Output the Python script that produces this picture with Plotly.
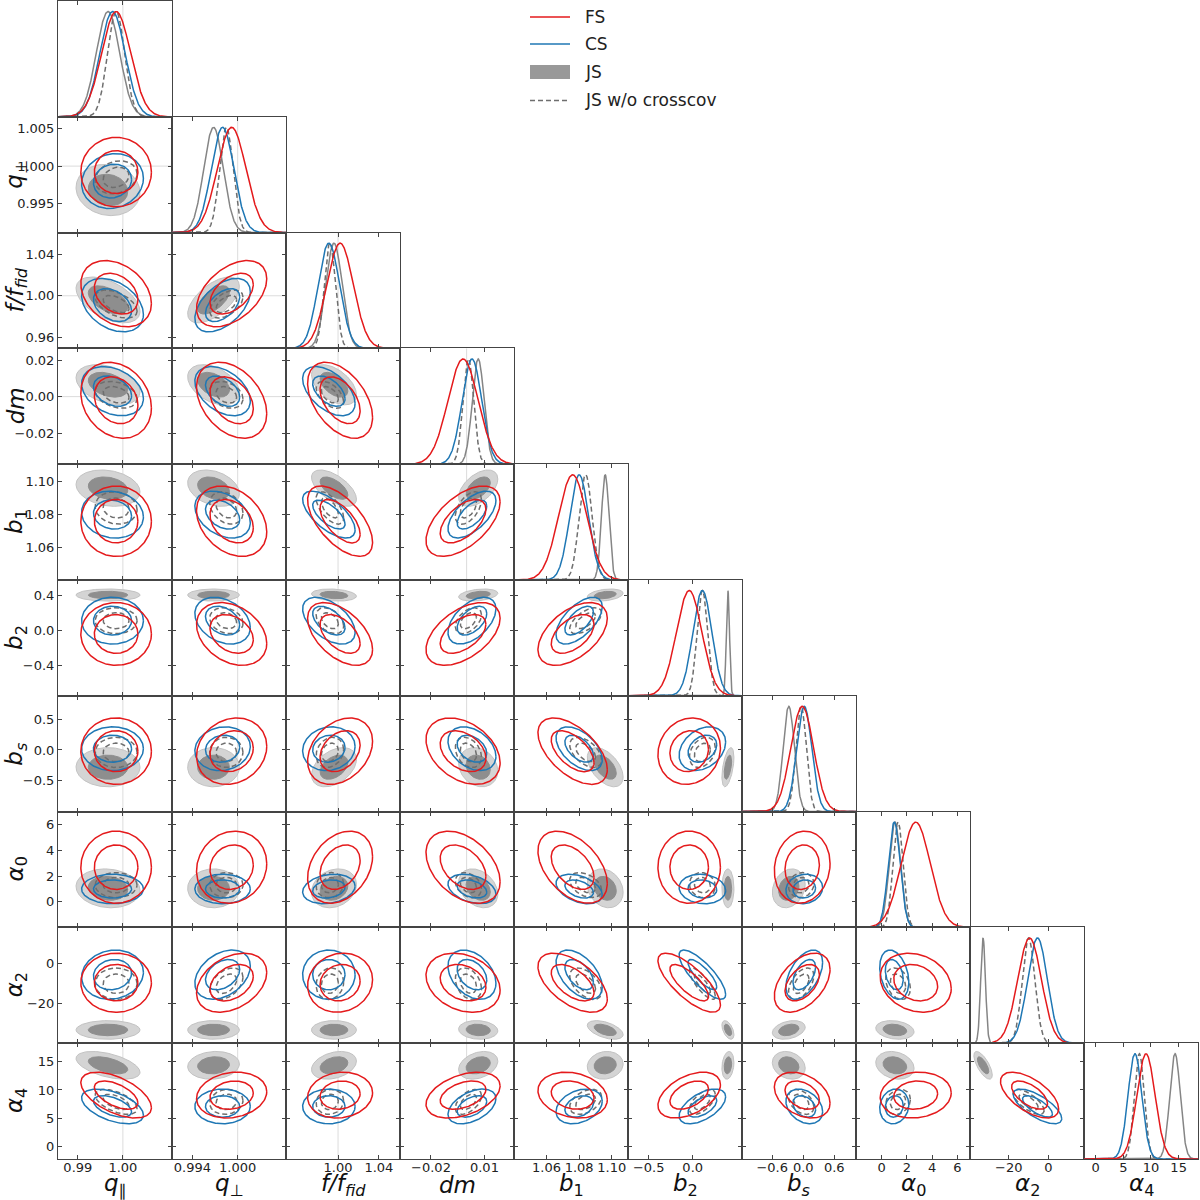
import numpy as np
import plotly.graph_objects as go

# ---------------- data ----------------
param_labels = ["<i>q</i><sub>∥</sub>", "<i>q</i><sub>⊥</sub>", "<i>f/f<sub>fid</sub></i>", "<i>dm</i>",
                "<i>b</i><sub>1</sub>", "<i>b</i><sub>2</sub>", "<i>b<sub>s</sub></i>",
                "<i>α</i><sub>0</sub>", "<i>α</i><sub>2</sub>", "<i>α</i><sub>4</sub>"]
truth_values = [1.0, 1.0, 1.0, 0.0, None, None, None, None, None, None]

fs_mean = [0.9985, 0.9992, 1.002, -0.002, 1.076, -0.04, -0.02, 2.7, -9.5, 9.1]
fs_sigma = [0.0032, 0.0019, 0.013, 0.0085, 0.0087, 0.145, 0.22, 1.15, 6.0, 1.65]
cs_mean = [0.9977, 0.9980, 0.991, 0.003, 1.080, 0.11, 0.02, 1.0, -5.5, 7.1]
cs_sigma = [0.0028, 0.0015, 0.0105, 0.0055, 0.0058, 0.108, 0.145, 0.47, 5.0, 1.25]
js_mean = [0.9967, 0.9968, 0.996, 0.0065, 1.096, 0.40, -0.28, 1.05, -33.0, 14.35]
js_sigma = [0.0029, 0.0014, 0.009, 0.0045, 0.0045, 0.028, 0.13, 0.62, 1.9, 1.0]
js_sigma_1d = [0.0026, 0.0013, 0.008, 0.0033, 0.0023, 0.018, 0.11, 0.45, 1.2, 0.95]
jsw_mean = [0.9985, 0.9985, 0.992, 0.001, 1.084, 0.11, -0.04, 1.3, -10.0, 7.9]
jsw_sigma = [0.0019, 0.0009, 0.0055, 0.003, 0.004, 0.06, 0.1, 0.4, 3.2, 0.9]

# lower-triangular correlation coefficients: row i lists corr(param i, param j) for j < i
rho_fs = [[], [0.0], [-0.3, 0.45], [-0.2, -0.35, -0.45], [0.0, -0.3, -0.6, 0.55],
          [0.0, -0.3, -0.5, 0.5, 0.5], [0.0, 0.15, 0.3, -0.35, -0.55, 0.1],
          [0.0, 0.1, 0.3, -0.4, -0.45, 0.0, 0.1],
          [0.0, 0.35, 0.1, -0.25, -0.55, -0.75, 0.45, -0.2],
          [-0.55, 0.15, 0.1, 0.4, -0.2, 0.45, -0.35, 0.1, -0.6]]
rho_cs = [[], [0.1], [-0.35, 0.5], [-0.3, -0.4, -0.5], [-0.1, -0.35, -0.65, 0.6],
          [0.0, -0.3, -0.5, 0.5, 0.6], [0.0, 0.1, 0.1, -0.35, -0.5, 0.3],
          [0.0, 0.0, 0.2, -0.35, -0.4, -0.1, 0.1],
          [0.1, 0.35, 0.0, -0.35, -0.5, -0.8, 0.5, -0.3],
          [-0.5, 0.0, 0.0, 0.45, 0.3, 0.55, -0.3, 0.1, -0.7]]
rho_js = [[], [-0.1], [-0.5, 0.6], [-0.35, -0.4, -0.5], [-0.2, -0.3, -0.6, 0.5],
          [0.0, 0.0, -0.2, 0.3, 0.3], [0.0, 0.0, 0.4, -0.2, -0.5, 0.5],
          [-0.1, 0.0, 0.2, -0.3, -0.2, 0.0, 0.2],
          [0.0, 0.0, 0.0, -0.1, -0.5, -0.5, 0.3, -0.2],
          [-0.5, 0.1, 0.3, 0.3, 0.1, 0.2, -0.2, -0.2, -0.7]]
rho_jsw = [[], [0.2], [-0.5, 0.5], [-0.3, -0.3, -0.5], [-0.1, -0.3, -0.6, 0.5],
           [0.0, -0.2, -0.4, 0.45, 0.6], [0.0, 0.0, 0.2, -0.3, -0.5, 0.3],
           [0.0, 0.0, 0.1, -0.3, -0.4, -0.1, 0.1],
           [0.0, 0.4, 0.1, -0.3, -0.5, -0.8, 0.5, -0.3],
           [-0.55, 0.1, 0.1, 0.5, 0.4, 0.6, -0.4, 0.2, -0.7]]

x_ranges = [[0.9856, 1.0109], [0.9913, 1.0064], [0.9490, 1.0607], [-0.0374, 0.0266], [1.0400, 1.1100],
            [-0.735, 0.560], [-1.184, 1.020], [-2.03, 7.0], [-39.6, 18.0], [-2.1, 18.5]]
y_ranges = [[0.9856, 1.0109], [0.9911, 1.0066], [0.9494, 1.0607], [-0.037, 0.0264], [1.0404, 1.1105],
            [-0.74, 0.57], [-1.0, 0.878], [-2.0, 7.04], [-39.6, 18.0], [-2.17, 18.25]]
x_tickvals = [[0.99, 1.00], [0.994, 1.000], [1.00, 1.04], [-0.02, 0.01], [1.06, 1.08, 1.10],
              [-0.5, 0.0], [-0.6, 0.0, 0.6], [0, 2, 4, 6], [-20, 0], [0, 5, 10, 15]]
x_ticktext = [["0.99", "1.00"], ["0.994", "1.000"], ["1.00", "1.04"], ["−0.02", "0.01"],
              ["1.06", "1.08", "1.10"], ["−0.5", "0.0"], ["−0.6", "0.0", "0.6"],
              ["0", "2", "4", "6"], ["−20", "0"], ["0", "5", "10", "15"]]
y_tickvals = [[], [0.995, 1.000, 1.005], [0.96, 1.00, 1.04], [-0.02, 0.0, 0.02], [1.06, 1.08, 1.10],
              [-0.4, 0.0, 0.4], [-0.5, 0.0, 0.5], [0, 2, 4, 6], [-20, 0], [0, 5, 10, 15]]
y_ticktext = [[], ["0.995", "1.000", "1.005"], ["0.96", "1.00", "1.04"], ["−0.02", "0.00", "0.02"],
              ["1.06", "1.08", "1.10"], ["−0.4", "0.0", "0.4"], ["−0.5", "0.0", "0.5"],
              ["0", "2", "4", "6"], ["−20", "0"], ["0", "5", "10", "15"]]

legend_names = ["FS", "CS", "JS", "JS w/o crosscov"]

# ---------------- styles ----------------
RED = "#e41a1c"
BLUE = "#1f77b4"
JS_LINE = "#858585"
JSW_LINE = "#6e6e6e"
JS_LIGHT = "#d4d4d4"
JS_DARK = "#8e8e8e"
FRAME = "#444444"
FONT = "DejaVu Sans"
W, H = 1200, 1200
left_px, col_w = 58.0, 114.0
top_px, row_h = 1.0, 115.8
R68 = np.sqrt(-2 * np.log(0.32))
R95 = np.sqrt(-2 * np.log(0.05))
n = len(param_labels)


def ellipse(mx, my, sx, sy, rho, r, npts=180):
    t = np.linspace(0, 2 * np.pi, npts)
    x = mx + r * sx * np.cos(t)
    y = my + r * sy * (rho * np.cos(t) + np.sqrt(1 - rho ** 2) * np.sin(t))
    return x, y


fig = go.Figure()
layout = {}
shapes = []
annotations = []

k = 0
for i in range(n):
    for j in range(i + 1):
        k += 1
        suf = "" if k == 1 else str(k)
        xa, ya = "x" + suf, "y" + suf
        x0 = (left_px + col_w * j) / W
        x1 = (left_px + col_w * (j + 1)) / W
        y1 = 1 - (top_px + row_h * i) / H
        y0 = 1 - (top_px + row_h * (i + 1)) / H
        common = dict(showgrid=False, zeroline=False, showline=True, linecolor=FRAME, linewidth=1,
                      mirror="ticks", ticks="inside", ticklen=4, tickcolor=FRAME, tickwidth=1,
                      automargin=False,
                      tickfont=dict(family=FONT, size=13, color="#222"))
        layout["xaxis" + suf] = dict(domain=[x0, x1], anchor=ya, range=x_ranges[j],
                                     tickmode="array", tickvals=x_tickvals[j], ticktext=x_ticktext[j],
                                     showticklabels=(i == n - 1), ticklabelstandoff=-4, **common)
        if i == j:
            yax = dict(common)
            yax.update(ticks="", mirror=True)
            layout["yaxis" + suf] = dict(domain=[y0, y1], anchor=xa, range=[0, 1.1],
                                         showticklabels=False, **yax)
        else:
            layout["yaxis" + suf] = dict(domain=[y0, y1], anchor=xa, range=y_ranges[i],
                                         tickmode="array", tickvals=y_tickvals[i], ticktext=y_ticktext[i],
                                         showticklabels=(j == 0), ticklabelstandoff=0, **common)

        # truth lines
        if truth_values[j] is not None:
            shapes.append(dict(type="line", xref=xa, yref=ya + " domain", x0=truth_values[j],
                               x1=truth_values[j], y0=0, y1=1, layer="below",
                               line=dict(color="#dcdcdc", width=1)))
        if i != j and truth_values[i] is not None:
            shapes.append(dict(type="line", xref=xa + " domain", yref=ya, x0=0, x1=1,
                               y0=truth_values[i], y1=truth_values[i], layer="below",
                               line=dict(color="#dcdcdc", width=1)))

        if i == j:
            xs = np.linspace(x_ranges[j][0], x_ranges[j][1], 400)
            curves = [(js_mean[j], js_sigma_1d[j], JS_LINE, "solid"),
                      (jsw_mean[j], jsw_sigma[j], JSW_LINE, "5px,3px"),
                      (cs_mean[j], cs_sigma[j], BLUE, "solid"),
                      (fs_mean[j], fs_sigma[j], RED, "solid")]
            for m, s, c, d in curves:
                fig.add_trace(go.Scatter(x=xs, y=np.exp(-0.5 * ((xs - m) / s) ** 2), mode="lines",
                                         line=dict(color=c, width=1.5, dash=d), xaxis=xa, yaxis=ya,
                                         hoverinfo="skip", showlegend=False))
        else:
            # JS filled contours
            for r, col in [(R95, JS_LIGHT), (R68, JS_DARK)]:
                ex, ey = ellipse(js_mean[j], js_mean[i], js_sigma[j], js_sigma[i], rho_js[i][j], r)
                fig.add_trace(go.Scatter(x=ex, y=ey, mode="lines", fill="toself", fillcolor=col,
                                         line=dict(color=("#c2c2c2" if col == JS_LIGHT else col), width=1),
                                         xaxis=xa, yaxis=ya, hoverinfo="skip", showlegend=False))
            sets = [(jsw_mean, jsw_sigma, rho_jsw, JSW_LINE, "5px,3px"),
                    (cs_mean, cs_sigma, rho_cs, BLUE, "solid"),
                    (fs_mean, fs_sigma, rho_fs, RED, "solid")]
            for mean, sig, rho, c, d in sets:
                for r in (R68, R95):
                    ex, ey = ellipse(mean[j], mean[i], sig[j], sig[i], rho[i][j], r)
                    fig.add_trace(go.Scatter(x=ex, y=ey, mode="lines",
                                             line=dict(color=c, width=1.5, dash=d),
                                             xaxis=xa, yaxis=ya, hoverinfo="skip", showlegend=False))

# axis titles
for j in range(n):
    annotations.append(dict(xref="paper", yref="paper", x=(left_px + col_w * (j + 0.5)) / W,
                            y=1 - 1185 / H, text=param_labels[j], showarrow=False,
                            xanchor="center", yanchor="middle",
                            font=dict(family=FONT, size=23, color="#111")))
for i in range(1, n):
    annotations.append(dict(xref="paper", yref="paper", x=16 / W,
                            y=1 - (top_px + row_h * (i + 0.5)) / H, text=param_labels[i],
                            showarrow=False, textangle=-90, xanchor="center", yanchor="middle",
                            font=dict(family=FONT, size=23, color="#111")))

# legend (drawn manually)
leg_y = [17, 44, 72, 100.5]
shapes.append(dict(type="line", xref="paper", yref="paper", x0=530 / W, x1=570 / W,
                   y0=1 - leg_y[0] / H, y1=1 - leg_y[0] / H, line=dict(color=RED, width=1.5)))
shapes.append(dict(type="line", xref="paper", yref="paper", x0=530 / W, x1=570 / W,
                   y0=1 - leg_y[1] / H, y1=1 - leg_y[1] / H, line=dict(color=BLUE, width=1.5)))
shapes.append(dict(type="rect", xref="paper", yref="paper", x0=530 / W, x1=570 / W,
                   y0=1 - (leg_y[2] + 7) / H, y1=1 - (leg_y[2] - 7) / H,
                   fillcolor="#999999", line=dict(width=0)))
shapes.append(dict(type="line", xref="paper", yref="paper", x0=530 / W, x1=570 / W,
                   y0=1 - leg_y[3] / H, y1=1 - leg_y[3] / H,
                   line=dict(color=JSW_LINE, width=1.5, dash="5px,3px")))
for name, yy in zip(legend_names, leg_y):
    annotations.append(dict(xref="paper", yref="paper", x=583 / W, y=1 - yy / H, text=name,
                            showarrow=False, xanchor="left", yanchor="middle",
                            font=dict(family=FONT, size=17, color="#222")))

fig.update_layout(width=W, height=H, margin=dict(l=0, r=0, t=0, b=0, autoexpand=False),
                  paper_bgcolor="white", plot_bgcolor="white", showlegend=False,
                  shapes=shapes, annotations=annotations, **layout)
fig.write_html("out.html", config={"displayModeBar": False},
               post_script="document.body.style.margin='0';document.body.style.padding='0';"
                           "document.body.style.overflow='hidden';"
                           "document.documentElement.style.overflow='hidden';")
